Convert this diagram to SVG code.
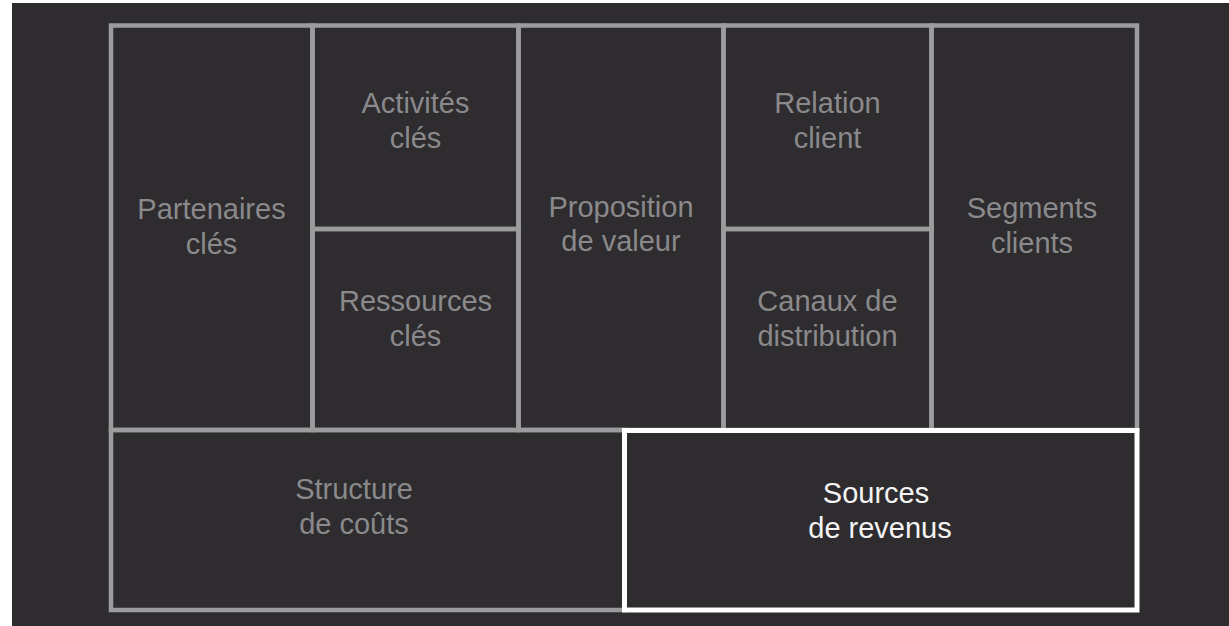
<svg xmlns="http://www.w3.org/2000/svg" width="1229" height="626" viewBox="0 0 1229 626">
  <style>
    .cell { fill: none; stroke: #9c9b9d; stroke-width: 4.5; }
    .hl { fill: none; stroke: #ffffff; stroke-width: 5; }
    .lbl { font-family: "Liberation Sans", Arial, sans-serif; font-size: 29px; fill: #8a898b; text-anchor: middle; }
    .lbl-hl { font-family: "Liberation Sans", Arial, sans-serif; font-size: 29px; fill: #f4f4f4; text-anchor: middle; }
  </style>
  <!-- page background -->
  <rect x="0" y="0" width="1229" height="626" fill="#ffffff"/>
  <rect x="12" y="3" width="1217" height="623" fill="#2e2c2f"/>

  <g id="partenaires">
    <rect class="cell" x="111" y="25.5" width="201.5" height="404.5"/>
    <text class="lbl" x="211.5" y="219">Partenaires</text>
    <text class="lbl" x="211.5" y="254">clés</text>
  </g>
  <g id="activites">
    <rect class="cell" x="312.5" y="25.5" width="206" height="203.5"/>
    <text class="lbl" x="415.5" y="113">Activités</text>
    <text class="lbl" x="415.5" y="148">clés</text>
  </g>
  <g id="ressources">
    <rect class="cell" x="312.5" y="229" width="206" height="201"/>
    <text class="lbl" x="415.5" y="311">Ressources</text>
    <text class="lbl" x="415.5" y="346">clés</text>
  </g>
  <g id="proposition">
    <rect class="cell" x="518.5" y="25.5" width="205" height="404.5"/>
    <text class="lbl" x="621" y="217">Proposition</text>
    <text class="lbl" x="621" y="251">de valeur</text>
  </g>
  <g id="relation">
    <rect class="cell" x="723.5" y="25.5" width="208" height="203.5"/>
    <text class="lbl" x="827.5" y="113">Relation</text>
    <text class="lbl" x="827.5" y="148">client</text>
  </g>
  <g id="canaux">
    <rect class="cell" x="723.5" y="229" width="208" height="201"/>
    <text class="lbl" x="827.5" y="311">Canaux de</text>
    <text class="lbl" x="827.5" y="346">distribution</text>
  </g>
  <g id="segments">
    <rect class="cell" x="931.5" y="25.5" width="205.5" height="404.5"/>
    <text class="lbl" x="1032" y="218">Segments</text>
    <text class="lbl" x="1032" y="253">clients</text>
  </g>
  <g id="structure">
    <rect class="cell" x="111" y="430" width="513.5" height="180"/>
    <text class="lbl" x="354" y="499">Structure</text>
    <text class="lbl" x="354" y="534">de coûts</text>
  </g>
  <g id="sources">
    <rect class="hl" x="624.5" y="430.5" width="512.5" height="179.5"/>
    <text class="lbl-hl" x="876" y="503">Sources</text>
    <text class="lbl-hl" x="880" y="538">de revenus</text>
  </g>
  <g id="connectors"/>
</svg>
